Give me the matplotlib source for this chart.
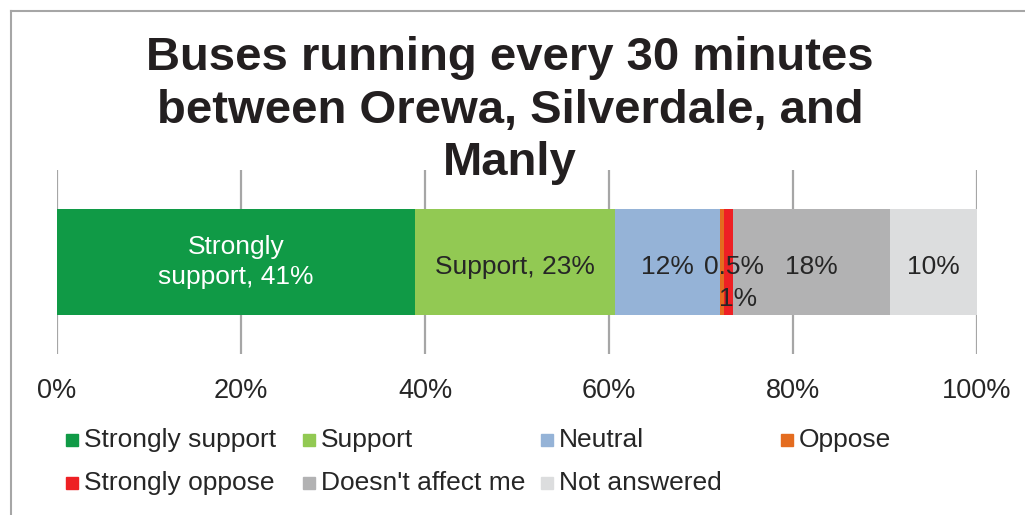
import matplotlib
matplotlib.use('Agg')
import matplotlib.pyplot as plt
from matplotlib.lines import Line2D
from matplotlib.patches import Rectangle

plt.rcParams['font.family'] = ['Liberation Sans', 'DejaVu Sans']

title = 'Buses running every 30 minutes\nbetween Orewa, Silverdale, and\nManly'
categories = ['Strongly support', 'Support', 'Neutral', 'Oppose',
              'Strongly oppose', "Doesn't affect me", 'Not answered']
values = [41, 23, 12, 0.5, 1, 18, 10]
colors = ['#109A46', '#92C953', '#95B3D7', '#E46C1F',
          '#EE2024', '#B2B2B3', '#DCDDDE']
ticks = [0, 20, 40, 60, 80, 100]
tick_labels = ['0%', '20%', '40%', '60%', '80%', '100%']

W, H = 1025, 515
fig = plt.figure(figsize=(W / 100, H / 100), dpi=100)
ax = fig.add_axes([57 / W, 1 - 354 / H, 920 / W, 184 / H])

total = sum(values)
widths = [v / total * 100 for v in values]
dark = '#262626'
ly = -0.025

left = 0
for i, (cat, w, v, c) in enumerate(zip(categories, widths, values, colors)):
    ax.barh(0, w, left=left, height=0.576, color=c, zorder=2)
    pct = ('%g' % v) + '%'
    cx = left + w / 2
    if cat == 'Strongly support':
        ax.text(cx, 0.0, 'Strongly\nsupport, ' + pct, ha='center', va='center',
                color='white', fontsize=19, linespacing=1.35, zorder=3)
    elif cat == 'Support':
        ax.text(cx, ly, cat + ', ' + pct, ha='center', va='center',
                color=dark, fontsize=19, zorder=3)
    elif cat == 'Oppose':
        ax.annotate(pct, (cx, ly), xytext=(9, 0), textcoords='offset points',
                    ha='center', va='center', color=dark, fontsize=19, zorder=3)
    elif cat == 'Strongly oppose':
        ax.annotate(pct, (cx, ly), xytext=(7, -23), textcoords='offset points',
                    ha='center', va='center', color=dark, fontsize=19, zorder=3)
    else:
        ax.text(cx, ly, pct, ha='center', va='center',
                color=dark, fontsize=19, zorder=3)
    left += w

ax.set_xlim(0, 100)
ax.set_ylim(-0.5, 0.5)
ax.set_xticks(ticks)
ax.set_xticklabels(tick_labels, fontsize=19.5, color=dark)
ax.set_yticks([])
ax.tick_params(axis='x', length=0, pad=17)
ax.grid(axis='x', color='#A6A6A6', linewidth=1.6, zorder=0)
ax.set_axisbelow(True)
for s in ax.spines.values():
    s.set_visible(False)

fig.text(510 / W, 1 - 36 / H, title, ha='center', va='top', fontsize=34,
         fontweight='bold', color='#231F20', linespacing=1.25)

# chart border (only top and left visible in the crop)
fig.add_artist(Line2D([11 / W, 1.01], [1 - 11 / H, 1 - 11 / H],
                      transform=fig.transFigure, color='#A6A6A6', lw=1.5))
fig.add_artist(Line2D([11 / W, 11 / W], [1 - 11 / H, -0.01],
                      transform=fig.transFigure, color='#A6A6A6', lw=1.5))

# legend laid out like the original (equal column slots)
col_x = [66, 303, 541, 781]
row_y = [440, 483]
for i, (cat, c) in enumerate(zip(categories, colors)):
    x = col_x[i % 4]
    y = row_y[i // 4]
    fig.add_artist(Rectangle((x / W, 1 - (y + 6) / H), 12 / W, 12 / H,
                             transform=fig.transFigure, color=c))
    fig.text((x + 18) / W, 1 - y / H, cat, ha='left', va='center',
             fontsize=19, color=dark)

fig.savefig('out.png', dpi=100)
